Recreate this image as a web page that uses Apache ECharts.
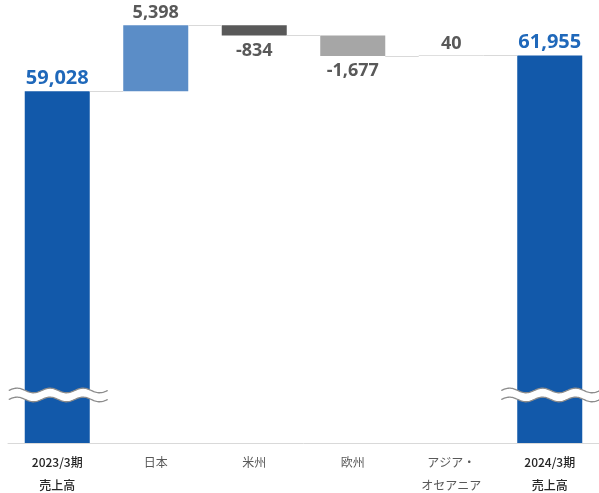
<!DOCTYPE html>
<html><head><meta charset="utf-8">
<script src="https://cdn.jsdelivr.net/npm/echarts@6/dist/echarts.min.js"></script>
<style>html,body{margin:0;padding:0;background:#fff}#c{width:599px;height:493px}</style>
</head><body><div id="c"></div>
<script>
// ---- data ----
const categories = ['2023/3期\n売上高', '日本', '米州', '欧州', 'アジア・\nオセアニア', '2024/3期\n売上高'];
const deltas = [59028, 5398, -834, -1677, 40, 61955];
const isTotal = [true, false, false, false, false, true];
const valueLabels = ['59,028', '5,398', '-834', '-1,677', '40', '61,955'];
const barColors = ['#1259AA', '#5B8DC7', '#595959', '#A6A6A6', '#BFBFBF', '#1259AA'];
const axisMin = 30240;
const axisMax = 66000;
const breakValue = 34170;

// ---- derive waterfall ----
const baseData = [], showData = [], levels = [];
let cum = 0;
deltas.forEach((d, i) => {
  if (isTotal[i]) { baseData.push(0); showData.push(d); cum = d; }
  else {
    const start = cum, end = cum + d;
    baseData.push(Math.min(start, end));
    showData.push(Math.abs(d));
    cum = end;
  }
  levels.push(cum);
});
const connectorData = levels.slice(0, -1).map((l, i) => [i, l]);
const waveData = isTotal.map((t, i) => t ? [i, breakValue] : null).filter(v => v);

const BW = 0.66;
const chart = echarts.init(document.getElementById('c'));
const numFont = '"Open Sans", "Noto Sans", sans-serif';

chart.setOption({
  animation: false,
  grid: { left: 8, right: 0, top: 6, bottom: 50 },
  xAxis: {
    type: 'category', data: categories,
    axisLine: { lineStyle: { color: '#D9D9D9', width: 1 } },
    axisTick: { show: false },
    axisLabel: {
      interval: 0, margin: 8,
      formatter: (v, i) => {
        const tag = (i === 0 || i === 5) ? 'b' : 'n';
        return v.split('\n').map(s => '{' + tag + '|' + s + '}').join('\n');
      },
      rich: {
        b: { fontFamily: '"Noto Sans CJK JP"', fontSize: 12, color: '#262626', lineHeight: 23, fontWeight: 500 },
        n: { fontFamily: '"Noto Sans CJK JP"', fontSize: 12, color: '#595959', lineHeight: 23 }
      }
    }
  },
  yAxis: { type: 'value', min: axisMin, max: axisMax, show: false, splitLine: { show: false } },
  series: [
    { type: 'bar', stack: 'w', barWidth: (BW * 100) + '%', data: baseData,
      itemStyle: { color: 'transparent' }, silent: true },
    { type: 'bar', stack: 'w', barWidth: (BW * 100) + '%',
      data: showData.map((v, i) => ({
        value: v,
        itemStyle: { color: barColors[i] },
        label: {
          show: true,
          position: deltas[i] < 0 ? 'bottom' : 'top',
          distance: deltas[i] < 0 ? 6 : 3,
          formatter: valueLabels[i],
          fontFamily: numFont, fontWeight: 'bold',
          fontSize: isTotal[i] ? 20 : 18,
          color: isTotal[i] ? '#1F68BA' : '#595959'
        }
      }))
    },
    { type: 'custom', z: 5, silent: true,
      data: connectorData,
      encode: { x: 0, y: 1 },
      renderItem: (params, api) => {
        const i = api.value(0);
        const lvl = api.value(1);
        const w = api.size([1, 0])[0] * BW;
        const p1 = api.coord([i, lvl]), p2 = api.coord([i + 1, lvl]);
        const y = Math.round(p1[1]) + 0.5;
        return { type: 'line', shape: { x1: p1[0] + w / 2, y1: y, x2: p2[0] - w / 2, y2: y },
          style: { stroke: '#D9D9D9', lineWidth: 1 } };
      }
    },
    { type: 'custom', z: 10, silent: true,
      data: waveData,
      encode: { x: 0, y: 1 },
      renderItem: (params, api) => {
        const i = api.value(0);
        const c = api.coord([i, api.value(1)]);
        const w = api.size([1, 0])[0] * BW;
        const x0 = c[0] - w / 2 - 16, x1 = c[0] + w / 2 + 18;
        const A = 2.3, lam = 33, half = 4.5;
        const top = [], bot = [];
        for (let x = x0; x <= x1 + 0.01; x += 1) {
          const s = A * Math.sin(2 * Math.PI * (x - x0) / lam);
          top.push([x, c[1] - half - s]);
          bot.push([x, c[1] + half - s]);
        }
        return { type: 'group', children: [
          { type: 'polygon', shape: { points: top.concat(bot.slice().reverse()) }, style: { fill: '#fff' } },
          { type: 'polyline', shape: { points: top }, style: { stroke: '#8C8C8C', lineWidth: 1.3, fill: null } },
          { type: 'polyline', shape: { points: bot }, style: { stroke: '#8C8C8C', lineWidth: 1.3, fill: null } }
        ] };
      }
    }
  ]
});
</script></body></html>
